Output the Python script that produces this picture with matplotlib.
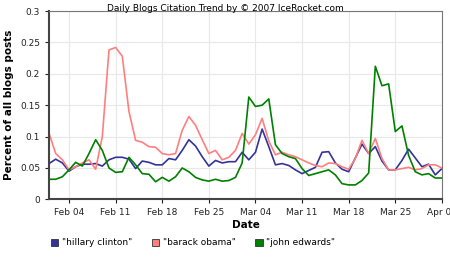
import pandas as pd
import matplotlib
matplotlib.use("Agg")
import matplotlib.pyplot as plt
import matplotlib.dates as mdates
from matplotlib.patches import Patch

# daily values, Feb 01 - Apr 01 2007
dates = pd.date_range("2007-02-01", "2007-04-01", freq="D")

hillary = [0.057, 0.064, 0.058, 0.045, 0.052, 0.056, 0.056, 0.057, 0.053, 0.063,
           0.067, 0.067, 0.064, 0.049, 0.061, 0.059, 0.055, 0.055, 0.065, 0.063,
           0.078, 0.095, 0.085, 0.068, 0.053, 0.062, 0.058, 0.060,
           0.060, 0.075, 0.063, 0.075, 0.112, 0.084, 0.055, 0.057, 0.054, 0.047,
           0.041, 0.046, 0.051, 0.075, 0.076, 0.058, 0.048, 0.044, 0.066, 0.088,
           0.073, 0.084, 0.061, 0.047, 0.047, 0.062, 0.080, 0.066, 0.052, 0.056,
           0.039, 0.049]

obama = [0.105, 0.073, 0.063, 0.047, 0.052, 0.058, 0.063, 0.048, 0.100, 0.238,
         0.242, 0.228, 0.140, 0.094, 0.091, 0.084, 0.083, 0.073, 0.071, 0.073,
         0.110, 0.132, 0.118, 0.095, 0.073, 0.078, 0.063, 0.067,
         0.078, 0.105, 0.088, 0.103, 0.129, 0.093, 0.071, 0.075, 0.071, 0.068,
         0.063, 0.058, 0.054, 0.052, 0.058, 0.057, 0.052, 0.048, 0.065, 0.094,
         0.073, 0.097, 0.065, 0.047, 0.047, 0.049, 0.051, 0.047, 0.049, 0.055,
         0.055, 0.050]

edwards = [0.032, 0.032, 0.036, 0.047, 0.059, 0.053, 0.073, 0.095, 0.078, 0.050,
           0.043, 0.044, 0.067, 0.055, 0.041, 0.040, 0.028, 0.035, 0.029, 0.036,
           0.050, 0.044, 0.035, 0.031, 0.029, 0.032, 0.029, 0.030,
           0.035, 0.058, 0.163, 0.148, 0.150, 0.160, 0.087, 0.073, 0.068, 0.065,
           0.049, 0.038, 0.041, 0.044, 0.047, 0.039, 0.025, 0.023, 0.023, 0.030,
           0.042, 0.212, 0.181, 0.184, 0.108, 0.117, 0.070, 0.044, 0.039, 0.041,
           0.034, 0.034]

names = ['"hillary clinton"', '"barack obama"', '"john edwards"']
colors = ["#333399", "#ff7f7f", "#008000"]

fig = plt.figure(figsize=(4.5, 2.63), dpi=100)
ax = fig.add_axes([0.109, 0.242, 0.873, 0.716])

for vals, c in zip([hillary, obama, edwards], colors):
    ax.plot(dates, vals, color=c, lw=1.2)

ax.set_xlim(dates[0], dates[-1])
ax.set_ylim(0, 0.3)
ax.set_yticks([0, 0.05, 0.1, 0.15, 0.2, 0.25, 0.3])
ax.set_yticklabels(["0", "0.05", "0.1", "0.15", "0.2", "0.25", "0.3"])
ax.xaxis.set_major_locator(mdates.DayLocator(bymonthday=[1, 4, 11, 18, 25]))
ticks = pd.to_datetime(["2007-02-04", "2007-02-11", "2007-02-18", "2007-02-25",
                        "2007-03-04", "2007-03-11", "2007-03-18", "2007-03-25",
                        "2007-04-01"])
ax.set_xticks(ticks)
ax.set_xticklabels([d.strftime("%b %d") for d in ticks])
ax.tick_params(labelsize=6.5, colors="#222222", length=3, width=0.8)
ax.grid(True, color="#e8e8e8", lw=0.8)
ax.set_axisbelow(True)

for s in ["top", "right"]:
    ax.spines[s].set_color("#777777")
    ax.spines[s].set_linewidth(0.8)
for s in ["left", "bottom"]:
    ax.spines[s].set_color("#444444")
    ax.spines[s].set_linewidth(1.5)

ax.set_xlabel("Date", fontsize=7.5, fontweight="bold", labelpad=2)
ax.set_ylabel("Percent of all blogs posts", fontsize=7.5, fontweight="bold", labelpad=4)
fig.text(0.5, 0.985, "Daily Blogs Citation Trend by \u00a9 2007 IceRocket.com",
         ha="center", va="top", fontsize=6.5)

handles = [Patch(facecolor=c, edgecolor="#333333", lw=0.6) for c in colors]
fig.legend(handles, names, loc="upper left", bbox_to_anchor=(0.095, 0.125),
           ncol=3, frameon=False, fontsize=6.5, handlelength=0.8, handleheight=0.8,
           handletextpad=0.4, columnspacing=2.2)

fig.savefig("out.png", dpi=100)
